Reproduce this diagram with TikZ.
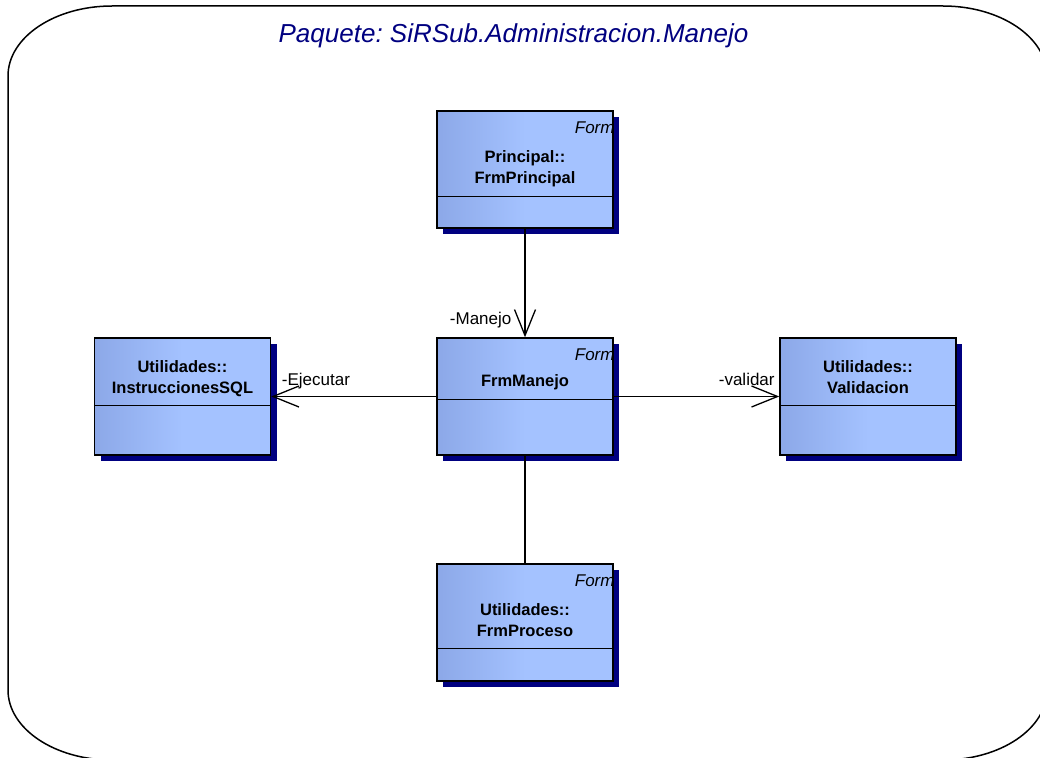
\documentclass[tikz,border=0pt]{standalone}
\usepackage{fontspec}
\setmainfont{Liberation Sans}
\usepackage{tikz}
\usetikzlibrary{arrows.meta,shadows,positioning}
\definecolor{navyshadow}{RGB}{0,0,128}
\definecolor{classleft}{RGB}{140,168,232}
\definecolor{classright}{RGB}{164,194,255}
\pgfdeclarehorizontalshading{classfill}{100bp}{color(0bp)=(classleft); color(25bp)=(classleft); color(50bp)=(classright); color(100bp)=(classright)}

\begin{document}
\begin{tikzpicture}[x=1pt, y=-1pt, node distance=227pt, on grid, >={Straight Barb[length=26pt,width=21pt]},
    umlclass/.style={rectangle, draw=black, line width=1.5pt, shade, shading=classfill, minimum width=176pt, minimum height=117pt, inner sep=0pt, drop shadow={shadow xshift=6pt, shadow yshift=-6pt, fill=navyshadow, opacity=1}},
    classname/.style={font=\bfseries\fontsize{16.5}{21}\selectfont, align=center, anchor=base, inner sep=0pt},
    stereo/.style={font=\itshape\fontsize{17}{20}\selectfont, anchor=base east, inner sep=0pt},
    role/.style={font=\fontsize{17}{20}\selectfont, inner sep=0pt},
    divider/.style={line width=1.2pt}]
        \useasboundingbox (0,0) rectangle (1040,757);
        % marco del paquete
        \draw[line width=1.5pt] (112,6) -- (943,6) arc[start angle=90, end angle=0, x radius=104pt, y radius=70pt]
            -- (1047,690) arc[start angle=0, end angle=-90, x radius=104pt, y radius=70pt]
            -- (112,760) arc[start angle=-90, end angle=-180, x radius=104pt, y radius=70pt]
            -- (8,76) arc[start angle=180, end angle=90, x radius=104pt, y radius=70pt] -- cycle;
        \node[font=\frenchspacing\itshape\fontsize{26}{30}\selectfont, text=navyshadow, anchor=base] (title) at (513.5,43) {Paquete: SiRSub.Administracion.Manejo};

        \node[umlclass]    (manejo)     at (525,396.5)              {};
        \node[umlclass]    (principal)  [above=of manejo]           {};
        \node[umlclass]    (sql)        [left=342.5pt of manejo]    {};
        \node[umlclass]    (validacion) [right=343pt of manejo]     {};
        \node[umlclass]    (proceso)    [below=226pt of manejo]     {};

        % compartimentos
        \draw[divider] ([yshift=-86pt]principal.north west) -- ([yshift=-86pt]principal.north east);
        \draw[divider] ([yshift=-62pt]manejo.north west) -- ([yshift=-62pt]manejo.north east);
        \draw[divider] ([yshift=-68pt]sql.north west) -- ([yshift=-68pt]sql.north east);
        \draw[divider] ([yshift=-68pt]validacion.north west) -- ([yshift=-68pt]validacion.north east);
        \draw[divider] ([yshift=-85pt]proceso.north west) -- ([yshift=-85pt]proceso.north east);

        \node[stereo]    (principal_st)  at ([xshift=1pt,yshift=-23pt]principal.north east)  {Form};
        \node[stereo]    (manejo_st)     at ([xshift=1pt,yshift=-23pt]manejo.north east)     {Form};
        \node[stereo]    (proceso_st)    at ([xshift=1pt,yshift=-23pt]proceso.north east)    {Form};
        \node[classname] (principal_nm)  at ([yshift=-73pt]principal.north)   {Principal::\\FrmPrincipal};
        \node[classname] (manejo_nm)     at ([yshift=-49pt]manejo.north)      {FrmManejo};
        \node[classname] (sql_nm)        at ([yshift=-56pt]sql.north)         {Utilidades::\\InstruccionesSQL};
        \node[classname] (validacion_nm) at ([yshift=-56pt]validacion.north)  {Utilidades::\\Validacion};
        \node[classname] (proceso_nm)    at ([yshift=-73pt]proceso.north)     {Utilidades::\\FrmProceso};

        \path[->, line width=1.3pt]
            (principal) edge node[role, pos=1, anchor=base east, xshift=-13pt, yshift=13pt]   {-Manejo}   (manejo)
            (manejo)    edge node[role, pos=1, anchor=base west, xshift=10pt, yshift=11.5pt] {-Ejecutar} (sql)
            (manejo)    edge node[role, pos=1, anchor=base east, xshift=-4pt, yshift=11.5pt] {-validar}  (validacion)
            (manejo)    edge[-]                                                                           (proceso);
\end{tikzpicture}
\end{document}
